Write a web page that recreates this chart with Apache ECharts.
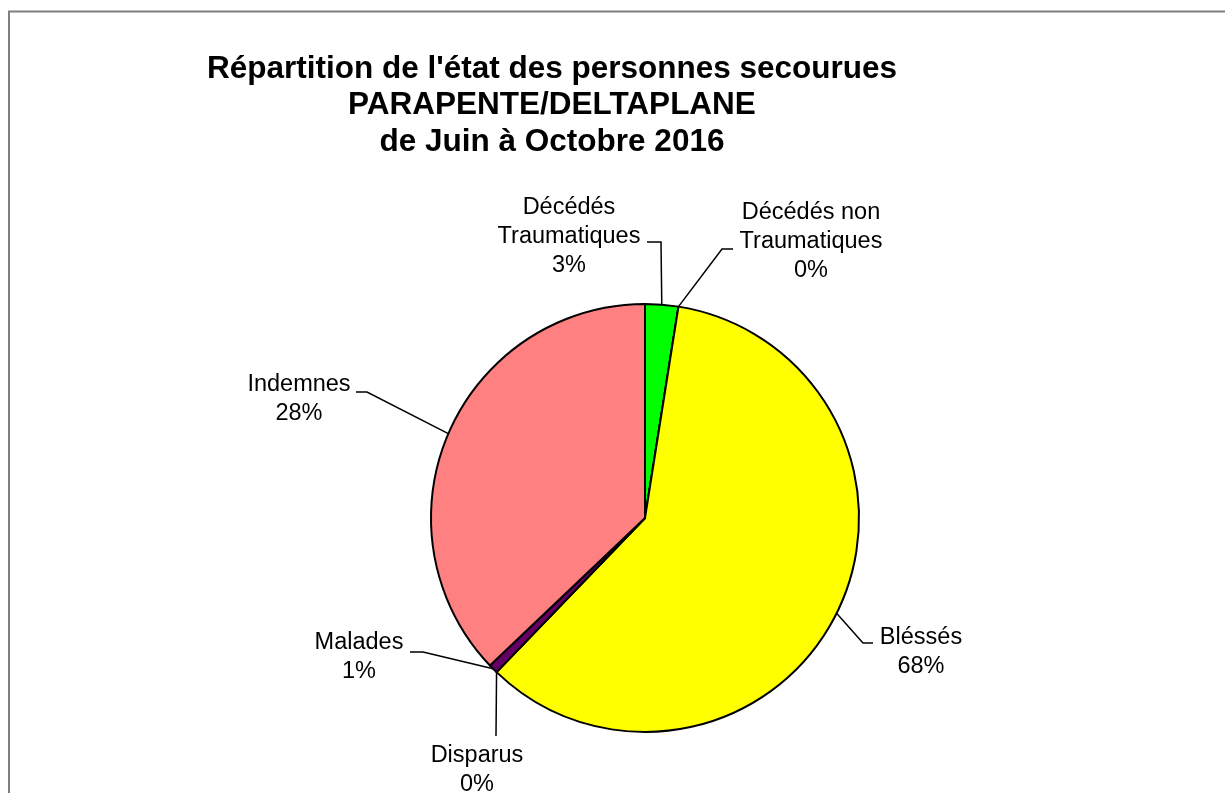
<!DOCTYPE html>
<html>
<head>
<meta charset="utf-8">
<script src="https://cdn.jsdelivr.net/npm/echarts@6/dist/echarts.min.js"></script>
<style>
  html, body { margin: 0; padding: 0; background: #fff; }
  #main { width: 1225px; height: 793px; }
</style>
</head>
<body>
<div id="main"></div>
<script>
// slice order, clockwise from 12 o'clock
const categories = ['Décédés\nTraumatiques', 'Décédés non\nTraumatiques', 'Bléssés', 'Disparus', 'Malades', 'Indemnes'];
const values = [2.5, 0, 59.7, 0, 0.7, 37.1];
// percentages as printed on the labels
const shownPct = ['3%', '0%', '68%', '0%', '1%', '28%'];
const colors = ['#00ff00', '#99ccff', '#ffff00', '#808080', '#660066', '#ff8080'];

const CX = 645, CY = 518, R = 214;

// label centres, and leader line elbow / end (px)
const labelPos = [
    [569, 237], [811, 242], [921, 652], [477, 770], [359, 657], [299, 399]
];
const leaderElbow = [
    [661, 242], [722, 249], [863, 643], [496, 736], [423, 652], [367, 392]
];
const leaderEnd = [
    [647, 242], [733, 249], [873, 643], [496, 736], [410, 652], [356, 392]
];

const total = values.reduce(function (a, b) { return a + b; }, 0);
const midAngle = [];
let acc = 0;
values.forEach(function (v) {
    midAngle.push((acc + v / 2) / total * Math.PI * 2);
    acc += v;
});

const seriesData = categories.map(function (c, i) {
    return { name: c, value: values[i], itemStyle: { color: colors[i] } };
});

const option = {
    animation: false,
    backgroundColor: '#fff',
    title: {
        text: "Répartition de l'état des personnes secourues\nPARAPENTE/DELTAPLANE\nde Juin à Octobre 2016",
        left: 547,
        top: 46,
        textAlign: 'center',
        textStyle: {
            fontFamily: 'Liberation Sans, Arial, sans-serif',
            fontSize: 31.5,
            fontWeight: 'bold',
            color: '#000',
            lineHeight: 36.5
        }
    },
    graphic: [{
        type: 'rect',
        shape: { x: 9, y: 11.5, width: 1400, height: 1000 },
        style: { fill: 'none', stroke: '#7f7f7f', lineWidth: 2 },
        silent: true
    }],
    series: [{
        type: 'pie',
        center: [CX, CY],
        radius: R,
        startAngle: 90,
        clockwise: true,
        avoidLabelOverlap: false,
        stillShowZeroSum: true,
        data: seriesData,
        itemStyle: { borderColor: '#000', borderWidth: 2 },
        emphasis: { disabled: true },
        label: {
            show: true,
            position: 'outside',
            formatter: function (p) {
                return p.name + '\n' + shownPct[p.dataIndex];
            },
            fontFamily: 'Liberation Sans, Arial, sans-serif',
            fontSize: 23.5,
            lineHeight: 29,
            color: '#000',
            align: 'center'
        },
        labelLine: {
            show: true,
            lineStyle: { color: '#000', width: 1.5 }
        },
        labelLayout: function (p) {
            const i = p.dataIndex;
            const a = midAngle[i];
            const edge = [CX + R * Math.sin(a), CY - R * Math.cos(a)];
            return {
                x: labelPos[i][0],
                y: labelPos[i][1],
                align: 'center',
                verticalAlign: 'middle',
                labelLinePoints: [edge, leaderElbow[i], leaderEnd[i]]
            };
        }
    }]
};

const myChart = echarts.init(document.getElementById('main'));
myChart.setOption(option);
</script>
</body>
</html>
